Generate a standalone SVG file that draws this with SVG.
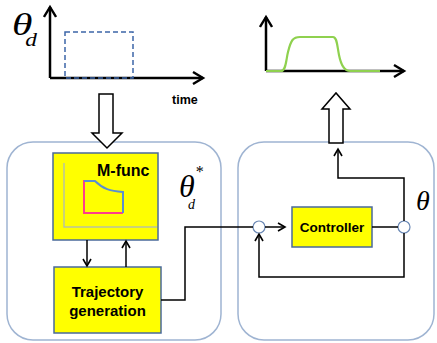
<svg xmlns="http://www.w3.org/2000/svg" width="437" height="343" viewBox="0 0 437 343">
<defs>
<marker id="ah" markerWidth="10" markerHeight="10" refX="8" refY="5" orient="auto" markerUnits="userSpaceOnUse">
<path d="M1,1 L8,5 L1,9" fill="none" stroke="#000" stroke-width="1.6"/>
</marker>
<marker id="ahb" markerWidth="14" markerHeight="14" refX="11" refY="7" orient="auto" markerUnits="userSpaceOnUse">
<path d="M1,1 L11,7 L1,13" fill="none" stroke="#000" stroke-width="2.4"/>
</marker>
</defs>
<style>
.frame{fill:#fff;stroke:#9fb4d2;stroke-width:1.5}
.yb{fill:#ffff00;stroke:#4a6a9a;stroke-width:1.5}
.ln{fill:none;stroke:#000;stroke-width:1.5}
.ax{fill:none;stroke:#000;stroke-width:2.5}
.lbl{font-family:"Liberation Sans","Noto Sans",sans-serif;font-weight:bold;fill:#000}
.gr{font-family:"Liberation Serif","DejaVu Serif",serif;font-style:italic;fill:#000}
.hollow{fill:#fff;stroke:#000;stroke-width:1.5}
.circ{fill:#fff;stroke:#6a88b5;stroke-width:1.2}
</style>
<rect width="437" height="343" fill="#fff"/>

<g id="input-graph">
<line class="ax" x1="50" y1="78" x2="50" y2="7" marker-end="url(#ahb)"/>
<line class="ax" x1="50" y1="78" x2="203" y2="78" marker-end="url(#ahb)"/>
<rect x="65" y="32" width="68" height="46" fill="none" stroke="#3d66a8" stroke-width="1.5" stroke-dasharray="5,3"/>
<text class="gr" transform="scale(1.3,1)"><tspan x="9.2" y="35" font-size="32">θ</tspan><tspan x="19.5" y="46" font-size="18">d</tspan></text>
<text class="lbl" x="172" y="104" font-size="12.5">time</text>
</g>

<g id="output-graph">
<line class="ax" x1="266" y1="71" x2="266" y2="17" marker-end="url(#ahb)"/>
<line class="ax" x1="266" y1="71" x2="404" y2="71" marker-end="url(#ahb)"/>
<path d="M266,71 L281,71 C286,71 286,60 288,52 C291,40 293,37 300,37 L333,37 C337,37 337,45 339,55 C341,65 344,71 350,71 L380,71" fill="none" stroke="#8fd14f" stroke-width="2.2"/>
</g>

<g id="left-frame">
<rect class="frame" x="7" y="142" width="214" height="198" rx="26"/>
</g>
<g id="right-frame">
<rect class="frame" x="238" y="142" width="196" height="198" rx="26"/>
</g>

<g id="arrow-down">
<path class="hollow" d="M99,94 L113,94 L113,133 L122,133 L107,148 L92,133 L99,133 Z"/>
</g>
<g id="arrow-up">
<path class="hollow" d="M329,143 L343,143 L343,109 L350,109 L336,93 L322,109 L329,109 Z"/>
</g>

<g id="mfunc">
<rect class="yb" x="53" y="153" width="105" height="87"/>
<path d="M64,163 L64,227 L157,227" fill="none" stroke="#b9c3a0" stroke-width="1.5"/>
<path d="M95,181 L84,181 L84,213 L123,213" fill="none" stroke="#ff3d8b" stroke-width="2"/>
<path d="M84,181 L95,181 C103,189 110,191 123,192 L123,213" fill="none" stroke="#5b8fd0" stroke-width="2"/>
<text class="lbl" x="97" y="176" font-size="16">M-func</text>
</g>

<g id="trajectory">
<rect class="yb" x="54" y="267" width="107" height="66"/>
<text class="lbl" x="107.5" y="297" font-size="15" text-anchor="middle">Trajectory</text>
<text class="lbl" x="107.5" y="316" font-size="15" text-anchor="middle">generation</text>
</g>

<g id="theta-dstar">
<text class="gr"><tspan x="179" y="197" font-size="32">θ</tspan><tspan x="188" y="209" font-size="14">d</tspan><tspan x="195" y="177" font-size="16">*</tspan></text>
</g>

<g id="controller">
<rect class="yb" x="292" y="207" width="80" height="40"/>
<text class="lbl" x="332" y="232" font-size="13.5" text-anchor="middle">Controller</text>
</g>

<g id="sum">
<circle class="circ" cx="259" cy="227" r="6"/>
</g>
<g id="pickoff">
<circle class="circ" cx="404" cy="227" r="6"/>
</g>
<g id="theta">
<text class="gr" x="416" y="210" font-size="28">θ</text>
</g>

<g id="connectors">
<line class="ln" x1="87" y1="240" x2="87" y2="266" marker-end="url(#ah)"/>
<line class="ln" x1="126" y1="267" x2="126" y2="241" marker-end="url(#ah)"/>
<polyline class="ln" points="161,300 185,300 185,227 253,227"/>
<line class="ln" x1="265" y1="227" x2="285" y2="227" marker-end="url(#ah)"/>
<line class="ln" x1="372" y1="227" x2="398" y2="227"/>
<polyline class="ln" points="404,221 404,178 338,178 338,149" marker-end="url(#ah)"/>
<polyline class="ln" points="404,233 404,277 259,277 259,234" marker-end="url(#ah)"/>
</g>
</svg>
